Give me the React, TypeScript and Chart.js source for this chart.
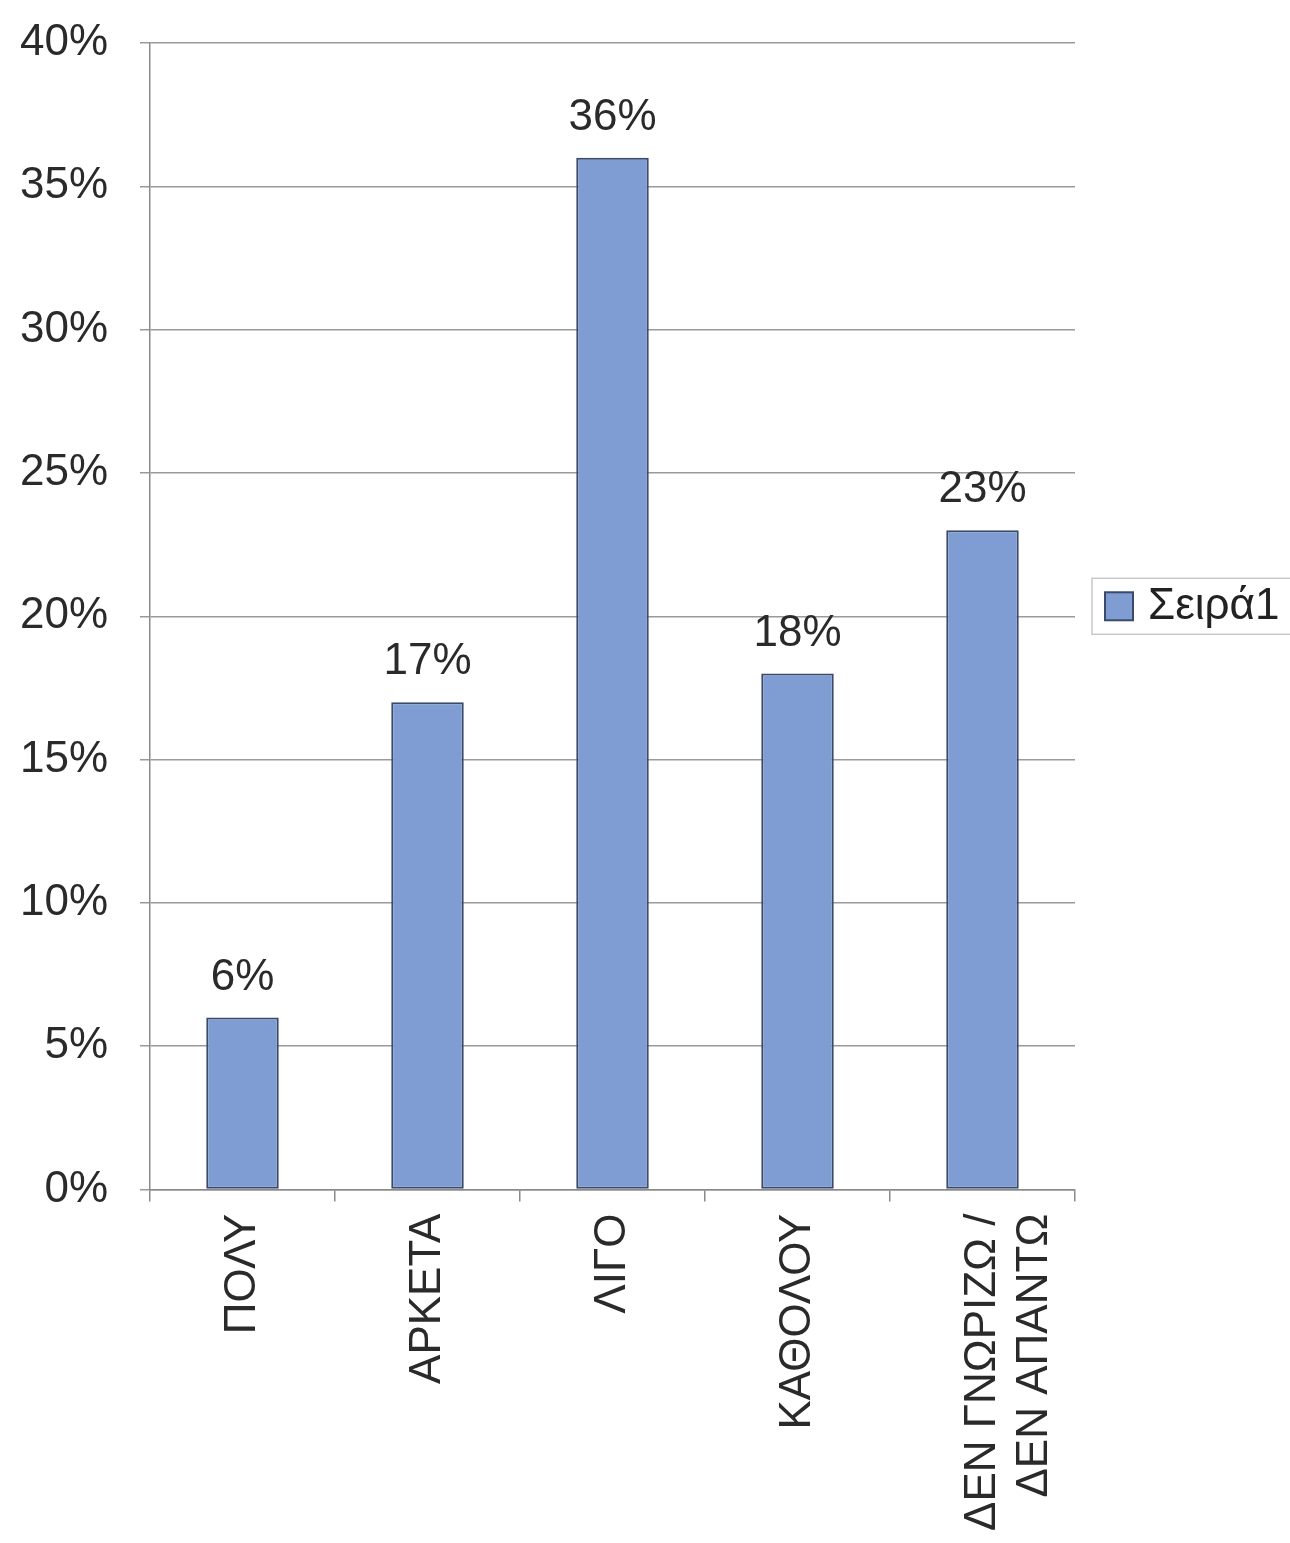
import React, { useEffect, useRef } from "react";
import { Chart, registerables } from "chart.js";

Chart.register(...registerables);

const categories: (string | string[])[] = ["ΠΟΛΥ", "ΑΡΚΕΤΑ", "ΛΙΓΟ", "ΚΑΘΟΛΟΥ", ["ΔΕΝ ΓΝΩΡΙΖΩ /", "ΔΕΝ ΑΠΑΝΤΩ"]];
const seriesName = "Σειρά1";
const seriesValues = [6, 17, 36, 18, 23];
const yMin = 0;
const yMax = 40;
const yStep = 5;

const FONT = "'Liberation Sans', Arial, sans-serif";
const BAR_FILL = "#7f9dd2";
const BAR_EDGE = "#3b4a6b";
const TEXT = "#2a2a2a";

const valueLabels = {
  id: "valueLabels",
  afterDatasetsDraw(chart: any) {
    const ctx = chart.ctx;
    const meta = chart.getDatasetMeta(0);
    ctx.save();
    ctx.font = `44px ${FONT}`;
    ctx.fillStyle = TEXT;
    ctx.textAlign = "center";
    ctx.textBaseline = "bottom";
    meta.data.forEach((bar: any, i: number) => {
      ctx.fillText(seriesValues[i] + "%", bar.x, bar.y - 18);
    });
    ctx.restore();
  },
};

// Legend drawn to the right of the plot, centred on the plot area (as in the Excel original)
const sideLegend = {
  id: "sideLegend",
  afterDraw(chart: any) {
    const ctx = chart.ctx;
    const area = chart.chartArea;
    const cy = (area.top + area.bottom) / 2 - 10;
    const frameLeft = area.right + 17;
    ctx.save();
    ctx.strokeStyle = "#c8c8c8";
    ctx.lineWidth = 1.5;
    ctx.strokeRect(frameLeft, cy - 28, chart.width - frameLeft + 4, 56);
    const boxX = frameLeft + 13;
    ctx.fillStyle = BAR_FILL;
    ctx.strokeStyle = BAR_EDGE;
    ctx.lineWidth = 2;
    ctx.fillRect(boxX, cy - 14, 28, 28);
    ctx.strokeRect(boxX, cy - 14, 28, 28);
    ctx.font = `44px ${FONT}`;
    ctx.fillStyle = "#222";
    ctx.textAlign = "left";
    ctx.textBaseline = "middle";
    ctx.fillText(seriesName, boxX + 43, cy + 1);
    ctx.restore();
  },
};

export default function App() {
  const ref = useRef<HTMLCanvasElement | null>(null);
  useEffect(() => {
    if (!ref.current) return;
    const chart = new Chart(ref.current, {
      type: "bar",
      data: {
        labels: categories,
        datasets: [
          {
            label: seriesName,
            data: seriesValues,
            backgroundColor: BAR_FILL,
            borderColor: BAR_EDGE,
            borderWidth: 2,
            borderSkipped: false,
            categoryPercentage: 0.8,
            barPercentage: 0.49,
          },
        ],
      },
      plugins: [valueLabels, sideLegend],
      options: {
        animation: false,
        responsive: true,
        maintainAspectRatio: false,
        layout: { padding: { left: 0, right: 215, top: 0, bottom: 0 } },
        plugins: {
          tooltip: { enabled: false },
          legend: { display: false },
        },
        scales: {
          x: {
            grid: {
              drawOnChartArea: false,
              drawTicks: true,
              tickLength: 12,
              offset: true,
              color: "#8a8a8a",
              lineWidth: 1.5,
            },
            border: { color: "#8a8a8a", width: 1.5 },
            ticks: {
              font: { family: FONT, size: 44 },
              color: TEXT,
              minRotation: 90,
              maxRotation: 90,
              padding: 12,
              autoSkip: false,
            },
          },
          y: {
            min: yMin,
            max: yMax,
            afterFit: (s: any) => {
              s.width = 150;
            },
            grid: {
              color: "#9a9a9a",
              lineWidth: 1.5,
              tickLength: 10,
            },
            border: { color: "#8a8a8a", width: 1.5 },
            ticks: {
              stepSize: yStep,
              font: { family: FONT, size: 44, lineHeight: 0.5 },
              color: TEXT,
              padding: 32,
              callback: (v: any) => v + "%",
            },
          },
        },
      },
    });
    return () => chart.destroy();
  }, []);
  return (
    <div style={{ position: "absolute", left: 0, top: 0, width: 1290, height: 1543, background: "#fff" }}>
      <canvas ref={ref} />
    </div>
  );
}
